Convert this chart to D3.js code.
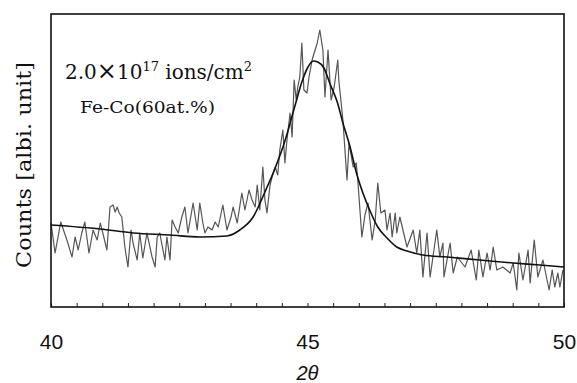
<!DOCTYPE html>
<html>
<head>
<meta charset="utf-8">
<script src="https://cdn.jsdelivr.net/npm/d3@7/dist/d3.min.js"></script>
<style>
  body { margin: 0; background: #fff; }
  svg { display: block; }
</style>
</head>
<body>
<div id="app"></div>
<script>
// measured pattern, 2theta (deg)
var measTheta = [
  40.00, 40.08, 40.19, 40.31, 40.41, 40.47, 40.53, 40.60, 40.66, 40.74,
  40.82, 40.90, 40.96, 41.01, 41.09, 41.15, 41.21, 41.25, 41.29, 41.33,
  41.38, 41.44, 41.50, 41.56, 41.60, 41.68, 41.73, 41.79, 41.87, 41.97,
  42.03, 42.07, 42.12, 42.22, 42.26, 42.32, 42.36, 42.42, 42.48, 42.55,
  42.61, 42.67, 42.77, 42.85, 42.90, 42.96, 43.00, 43.06, 43.14, 43.20,
  43.26, 43.35, 43.43, 43.51, 43.55, 43.63, 43.72, 43.78, 43.86, 43.92,
  43.98, 44.02, 44.07, 44.13, 44.17, 44.21, 44.27, 44.31, 44.37, 44.42,
  44.46, 44.52, 44.56, 44.60, 44.66, 44.70, 44.74, 44.78, 44.81, 44.85,
  44.89, 44.93, 44.99, 45.03, 45.09, 45.13, 45.19, 45.24, 45.30, 45.34,
  45.40, 45.46, 45.52, 45.59, 45.61, 45.69, 45.77, 45.81, 45.89, 45.95,
  45.98, 46.06, 46.12, 46.18, 46.26, 46.32, 46.37, 46.43, 46.51, 46.55,
  46.61, 46.65, 46.71, 46.74, 46.80, 46.94, 47.06, 47.13, 47.19, 47.25,
  47.33, 47.39, 47.52, 47.58, 47.64, 47.66, 47.78, 47.84, 47.92, 48.01,
  48.07, 48.19, 48.29, 48.34, 48.42, 48.50, 48.56, 48.62, 48.69, 48.81,
  48.95, 49.01, 49.08, 49.12, 49.20, 49.30, 49.34, 49.42, 49.49, 49.59,
  49.71, 49.77, 49.82, 49.88, 49.92, 49.98
];
// measured counts (arb.)
var measCounts = [
  84, 54, 85, 67, 50, 70, 57, 74, 85, 54,
  77, 67, 84, 74, 57, 100, 102, 95, 100, 94,
  90, 60, 40, 77, 64, 47, 74, 49, 74, 50,
  40, 70, 74, 47, 70, 47, 87, 80, 74, 90,
  100, 74, 104, 77, 104, 84, 74, 80, 77, 85,
  80, 102, 77, 90, 100, 84, 114, 97, 117, 107,
  100, 122, 97, 140, 107, 94, 122, 130, 140, 132,
  157, 177, 144, 167, 194, 170, 227, 207, 220, 230,
  264, 217, 214, 230, 247, 254, 264, 277, 257, 210,
  257, 207, 220, 247, 227, 187, 127, 164, 140, 144,
  127, 70, 92, 104, 67, 87, 124, 94, 97, 77,
  94, 70, 94, 74, 90, 60, 77, 54, 77, 30,
  74, 30, 77, 50, 64, 30, 64, 34, 50, 44,
  40, 57, 27, 57, 30, 54, 37, 60, 37, 40,
  34, 44, 17, 54, 27, 57, 24, 67, 30, 47,
  17, 37, 20, 34, 20, 37
];

// fitted curve
var fitTheta = [
  40.00, 40.96, 41.60, 42.32, 42.90, 43.43, 43.68, 43.94, 44.17, 44.37,
  44.56, 44.76, 44.89, 45.01, 45.11, 45.20, 45.32, 45.44, 45.58, 45.69,
  45.83, 45.96, 46.08, 46.22, 46.37, 46.55, 46.74, 46.94, 47.25, 47.72,
  48.36, 49.01, 49.53, 50.00
];
var fitCounts = [
  82, 78, 74, 72, 70, 71, 77, 90, 115, 139,
  166, 202, 225, 240, 246, 245, 239, 223, 205, 184,
  160, 133, 114, 96, 80, 69, 60, 56, 52, 50,
  47, 44, 42, 40
];

var minorTicks = d3.range(40, 50.01, 0.5);
var tickLabels = [40, 45, 50];

var width = 577, height = 383;
var margin = { top: 14, right: 13, bottom: 76, left: 51 };
var plotW = width - margin.left - margin.right;
var plotH = height - margin.top - margin.bottom;

var svg = d3.select('#app')
    .append('svg')
    .attr('width', width)
    .attr('height', height);

var x = d3.scaleLinear().domain([40, 50]).range([0, plotW]);
var y = d3.scaleLinear().domain([0, 293]).range([plotH, 0]);

var g = svg.append('g')
    .attr('transform', 'translate(' + margin.left + ',' + margin.top + ')');

// minor ticks pointing inward
var tickAxis = g.append('g')
    .attr('transform', 'translate(0,' + plotH + ')')
    .call(d3.axisBottom(x).tickValues(minorTicks).tickSize(-4).tickFormat(''));
tickAxis.select('.domain').remove();
tickAxis.selectAll('line').attr('stroke', '#222').attr('stroke-width', 1);

// labels
var labelAxis = g.append('g')
    .attr('transform', 'translate(0,' + plotH + ')')
    .call(d3.axisBottom(x).tickValues(tickLabels).tickSize(0).tickPadding(27).tickFormat(d3.format('d')));
labelAxis.select('.domain').remove();
labelAxis.selectAll('text')
    .attr('font-family', 'Liberation Sans, Arial, sans-serif')
    .attr('font-size', 21)
    .attr('fill', '#111');

var measured = measTheta.map(function(t, i) { return { t: t, c: measCounts[i] }; });
var fitted = fitTheta.map(function(t, i) { return { t: t, c: fitCounts[i] }; });

var line = d3.line()
    .x(function(d) { return x(d.t); })
    .y(function(d) { return y(d.c); });

g.append('path')
    .datum(measured)
    .attr('d', line)
    .attr('fill', 'none')
    .attr('stroke', '#555')
    .attr('stroke-width', 1.2)
    .attr('stroke-linejoin', 'round');

g.append('path')
    .datum(fitted)
    .attr('d', line.curve(d3.curveMonotoneX))
    .attr('fill', 'none')
    .attr('stroke', '#111')
    .attr('stroke-width', 1.6);

// frame
g.append('rect')
    .attr('width', plotW)
    .attr('height', plotH)
    .attr('fill', 'none')
    .attr('stroke', '#111')
    .attr('stroke-width', 1.6);

// annotations
var serif = 'DejaVu Serif, Liberation Serif, serif';
var ann = g.append('text')
    .attr('x', 14)
    .attr('y', 65)
    .attr('font-family', serif)
    .attr('font-size', 20)
    .attr('fill', '#111');
ann.append('tspan').text('2.0');
ann.append('tspan').attr('font-size', 24).text('\u00d7');
ann.append('tspan').text('10');
ann.append('tspan').attr('dy', -8).attr('font-size', 13).text('17');
ann.append('tspan').attr('dy', 8).text(' ions/cm');
ann.append('tspan').attr('dy', -8).attr('font-size', 13).text('2');

g.append('text')
    .attr('x', 29)
    .attr('y', 99)
    .attr('font-family', serif)
    .attr('font-size', 17)
    .attr('textLength', 135)
    .attr('lengthAdjust', 'spacingAndGlyphs')
    .attr('fill', '#111')
    .text('Fe-Co(60at.%)');

// axis titles
svg.append('text')
    .attr('transform', 'translate(31,165) rotate(-90)')
    .attr('text-anchor', 'middle')
    .attr('font-family', serif)
    .attr('font-size', 21)
    .attr('textLength', 206)
    .attr('lengthAdjust', 'spacingAndGlyphs')
    .attr('fill', '#111')
    .text('Counts [albi. unit]');

svg.append('text')
    .attr('x', margin.left + x(45))
    .attr('y', 380)
    .attr('text-anchor', 'middle')
    .attr('font-family', 'Liberation Sans, Arial, sans-serif')
    .attr('font-style', 'italic')
    .attr('font-size', 20)
    .attr('fill', '#111')
    .text('2\u03b8');
</script>
</body>
</html>
